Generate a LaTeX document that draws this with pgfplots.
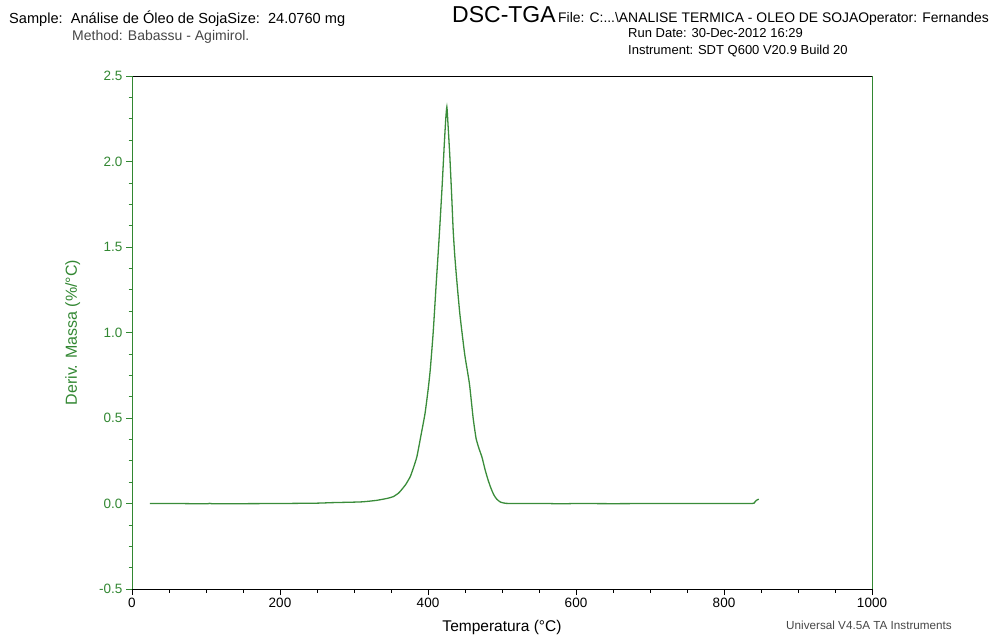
\documentclass[border=0pt]{standalone}
\usepackage{fontspec}
\setmainfont{Liberation Sans}
\usepackage{pgfplots}
\pgfplotsset{compat=1.18}
\definecolor{curvegreen}{RGB}{58,140,58}
\definecolor{labgreen}{RGB}{50,135,50}
\definecolor{methgray}{RGB}{70,70,70}
\begin{document}
\begin{tikzpicture}
\path (0pt,0pt) rectangle (1000pt,638pt);
% header
\node[anchor=base west,inner sep=0,font=\fontsize{14.6}{16}\selectfont] at (9pt,614pt) {Sample:\ \ Análise de Óleo de SojaSize:\ \ 24.0760 mg};
\node[anchor=base west,inner sep=0,font=\fontsize{14}{16}\selectfont,text=methgray] at (72pt,597pt) {Method: Babassu - Agimirol.};
\node[anchor=base west,inner sep=0,font=\fontsize{23}{25}\selectfont] at (452pt,615pt) {DSC-TGA};
\node[anchor=base west,inner sep=0,font=\fontsize{13.9}{15}\selectfont] at (558pt,615pt) {File: C:...\textbackslash ANALISE TERMICA - OLEO DE SOJAOperator: Fernandes};
\node[anchor=base west,inner sep=0,font=\fontsize{13}{15}\selectfont] at (628pt,600pt) {Run Date: 30-Dec-2012 16:29};
\node[anchor=base west,inner sep=0,font=\fontsize{13}{15}\selectfont] at (628pt,583pt) {Instrument: SDT Q600 V20.9 Build 20};
\node[anchor=base west,inner sep=0,font=\fontsize{11.7}{13}\selectfont,text=methgray] at (786pt,9pt) {Universal V4.5A TA Instruments};
\begin{axis}[
  at={(132pt,49pt)}, anchor=south west,
  width=740pt, height=513pt, scale only axis,
  xmin=0, xmax=1000, ymin=-0.5, ymax=2.5,
  xtick={0,200,400,600,800,1000},
  xticklabels={0,200,400,600,800,1000},
  ytick={-0.5,0,0.5,1,1.5,2,2.5},
  yticklabels={-0.5,0.0,0.5,1.0,1.5,2.0,2.5},
  minor x tick num=3, minor y tick num=3,
  tick align=outside, xtick pos=bottom, ytick pos=left,
  major tick length=6pt, minor tick length=3.5pt,
  separate axis lines,
  x axis line style={black, line width=0.8pt},
  y axis line style={labgreen, line width=0.8pt},
  xtick style={black, line width=0.6pt},
  ytick style={labgreen, line width=0.6pt},
  xticklabel style={font=\fontsize{13.5}{15}\selectfont, text=black},
  yticklabel style={font=\fontsize{13.5}{15}\selectfont, text=labgreen},
  /pgf/number format/assume math mode=true,
  xlabel={Temperatura (°C)},
  ylabel={Deriv. Massa (\%/°C)},
  xlabel style={at={(axis description cs:0.5,-0.076)}, anchor=center, font=\fontsize{15.5}{17}\selectfont},
  ylabel style={at={(axis description cs:-0.08,0.5)}, anchor=center, font=\fontsize{16}{18}\selectfont, text=labgreen},
]
\addplot[curvegreen, line width=1.3pt, smooth, tension=0.3] coordinates {
(24,0.000) (60,0.000) (100,-0.002) (105,0.001) (110,-0.002) (150,-0.001)
(200,0.000) (250,0.002) (270,0.005) (300,0.008) (312,0.010) (330,0.018)
(345,0.030) (353,0.040) (360,0.060) (364,0.079) (370,0.112) (376,0.157)
(380,0.205) (385,0.274) (391,0.410) (396,0.527) (400,0.660) (403,0.780)
(407,1.000) (411,1.280) (415,1.550) (419,1.850) (422,2.100) (424,2.250)
(425.5,2.320) (427,2.220) (429.5,2.030) (432,1.800) (434,1.600) (436,1.460)
(438,1.350) (440,1.250) (443,1.110) (446.5,0.980) (450,0.860) (456,0.700)
(461,0.500) (465,0.380) (469,0.320) (473,0.270) (477,0.200) (481,0.140)
(485,0.090) (489,0.050) (493,0.025) (498,0.008) (505,0.001) (520,0.000)
(560,0.000) (580,-0.002) (600,0.000) (650,-0.001) (700,0.000) (750,0.000)
(800,0.000) (838,0.000) (841,0.005) (843,0.015) (845,0.022) (847,0.025)
};
\end{axis}
\end{tikzpicture}
\end{document}
